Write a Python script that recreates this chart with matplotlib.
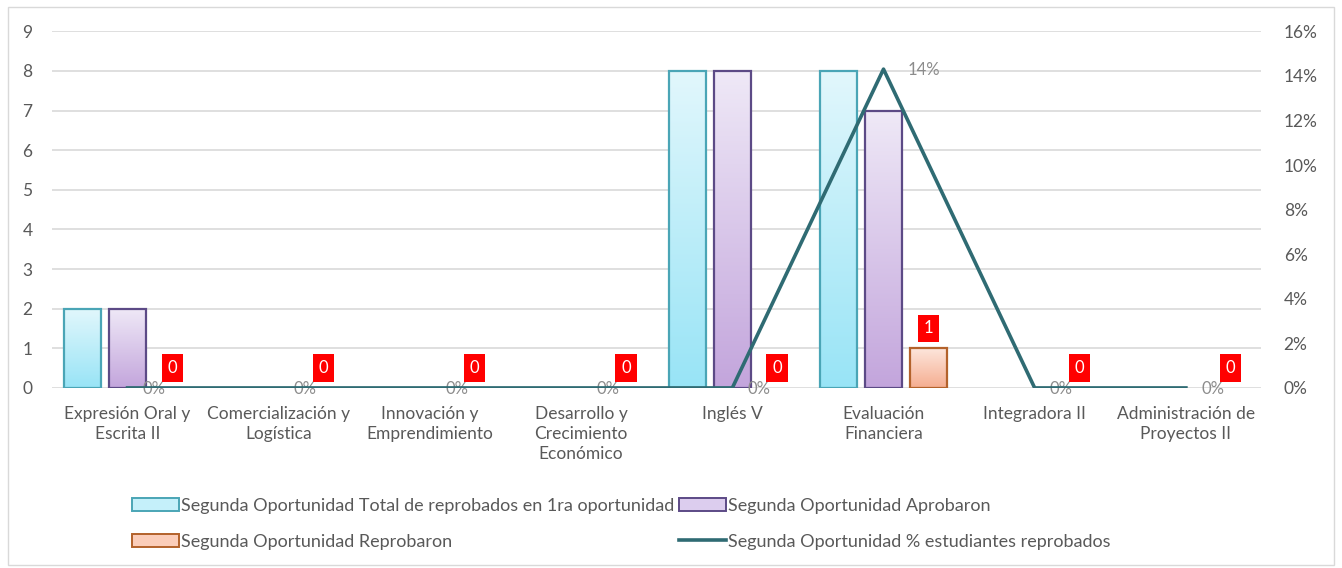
import numpy as np
import matplotlib
matplotlib.use("Agg")
import matplotlib.pyplot as plt
from matplotlib.colors import LinearSegmentedColormap
from matplotlib.patches import Rectangle, Patch
from matplotlib.lines import Line2D
from matplotlib.ticker import PercentFormatter

plt.rcParams['font.family'] = ['Lato', 'DejaVu Sans']

# datos
materias = ["Expresión Oral y\nEscrita II", "Comercialización y\nLogística",
            "Innovación y\nEmprendimiento", "Desarrollo y\nCrecimiento\nEconómico",
            "Inglés V", "Evaluación\nFinanciera", "Integradora II",
            "Administración de\nProyectos II"]
total_reprobados = [2, 0, 0, 0, 8, 8, 0, 0]
aprobaron = [2, 0, 0, 0, 8, 7, 0, 0]
reprobaron = [0, 0, 0, 0, 0, 1, 0, 0]
pct_reprobados = [0, 0, 0, 0, 0, 0.143, 0, 0]

series_names = ["Segunda Oportunidad Total de reprobados en 1ra oportunidad",
                "Segunda Oportunidad Aprobaron",
                "Segunda Oportunidad Reprobaron",
                "Segunda Oportunidad % estudiantes reprobados"]

gray = "#595959"
line_color = "#2f6b73"


def gradient_bars(ax, x, heights, width, top, bottom, edge):
    cmap = LinearSegmentedColormap.from_list("g", [bottom, top])
    grad = np.linspace(0, 1, 256).reshape(-1, 1)
    bars = ax.bar(x, heights, width, facecolor="none", edgecolor=edge,
                  linewidth=1.6, zorder=3)
    for b, h in zip(bars, heights):
        if h <= 0:
            b.set_visible(False)
            continue
        x0 = b.get_x()
        im = ax.imshow(grad, cmap=cmap, aspect="auto", origin="lower",
                       extent=(x0, x0 + width, 0, h), zorder=2)
        im.set_clip_path(b)
    return bars


fig = plt.figure(figsize=(13.42, 5.68), dpi=100)
fig.patches.append(Rectangle((0.006, 0.005), 0.988, 0.983, transform=fig.transFigure,
                             fill=False, edgecolor="#d9d9d9", linewidth=1))
ax = fig.add_axes([0.0387, 0.317, 0.9013, 0.628])
ax2 = ax.twinx()

x = np.arange(len(materias))
w = 0.245
off = 0.296
gradient_bars(ax, x - off, total_reprobados, w, "#e2f7fc", "#98e4f6", "#4aa5b6")
gradient_bars(ax, x, aprobaron, w, "#efe9f7", "#c3a5dc", "#5c4a86")
gradient_bars(ax, x + off, reprobaron, w, "#fde6dc", "#f5ad90", "#b3622b")

ax.set_xlim(-0.5, len(materias) - 0.5)
ax.set_ylim(0, 9)
ax.set_yticks(range(10))
ax.yaxis.grid(True, color="#d9d9d9", linewidth=1.2, zorder=0)
ax.set_axisbelow(True)
ax.set_xticks(x)
ax.set_xticklabels(materias, fontsize=12.5, color=gray, linespacing=1.3)
ax.tick_params(axis="both", length=0, labelsize=12.5, labelcolor=gray)
ax.tick_params(axis="y", pad=14)
ax.tick_params(axis="x", pad=13)
for s in ax.spines.values():
    s.set_visible(False)

ax2.plot(x, pct_reprobados, color=line_color, linewidth=2.6, zorder=4)
ax2.set_ylim(0, 0.16)
ax2.set_yticks(np.arange(0, 0.161, 0.02))
ax2.yaxis.set_major_formatter(PercentFormatter(1.0, decimals=0))
ax2.tick_params(axis="y", length=0, labelsize=12.5, labelcolor=gray, pad=16)
for s in ax2.spines.values():
    s.set_visible(False)

for xi, p in zip(x, pct_reprobados):
    dx = 0.16 if p > 0 else 0.1
    ax2.text(xi + dx, p - 0.0005, f"{p*100:.0f}%", fontsize=12, color="#8c8c8c",
             ha="left", va="center", zorder=3)

for xi, r in zip(x, reprobaron):
    ax2.text(xi + off, r + 0.3, str(r), transform=ax.transData, fontsize=12,
             color="white", ha="center", va="bottom", zorder=6,
             bbox=dict(boxstyle="square,pad=0.35", facecolor="#ff0000",
                       edgecolor="none"))

handles = [Patch(facecolor="#c5f0fa", edgecolor="#4aa5b6", linewidth=1.4),
           Patch(facecolor="#fbcdb9", edgecolor="#b3622b", linewidth=1.4),
           Patch(facecolor="#dccdee", edgecolor="#5c4a86", linewidth=1.4),
           Line2D([0], [0], color=line_color, linewidth=2.6)]
labels = [series_names[0], series_names[2], series_names[1], series_names[3]]
fig.legend(handles, labels, loc="center", ncol=2,
           bbox_to_anchor=(0.463, 0.078), frameon=False, fontsize=13,
           labelcolor=gray, handlelength=2.6, handletextpad=0.1,
           columnspacing=0.3, labelspacing=1.1)

fig.savefig("out.png", dpi=100)
